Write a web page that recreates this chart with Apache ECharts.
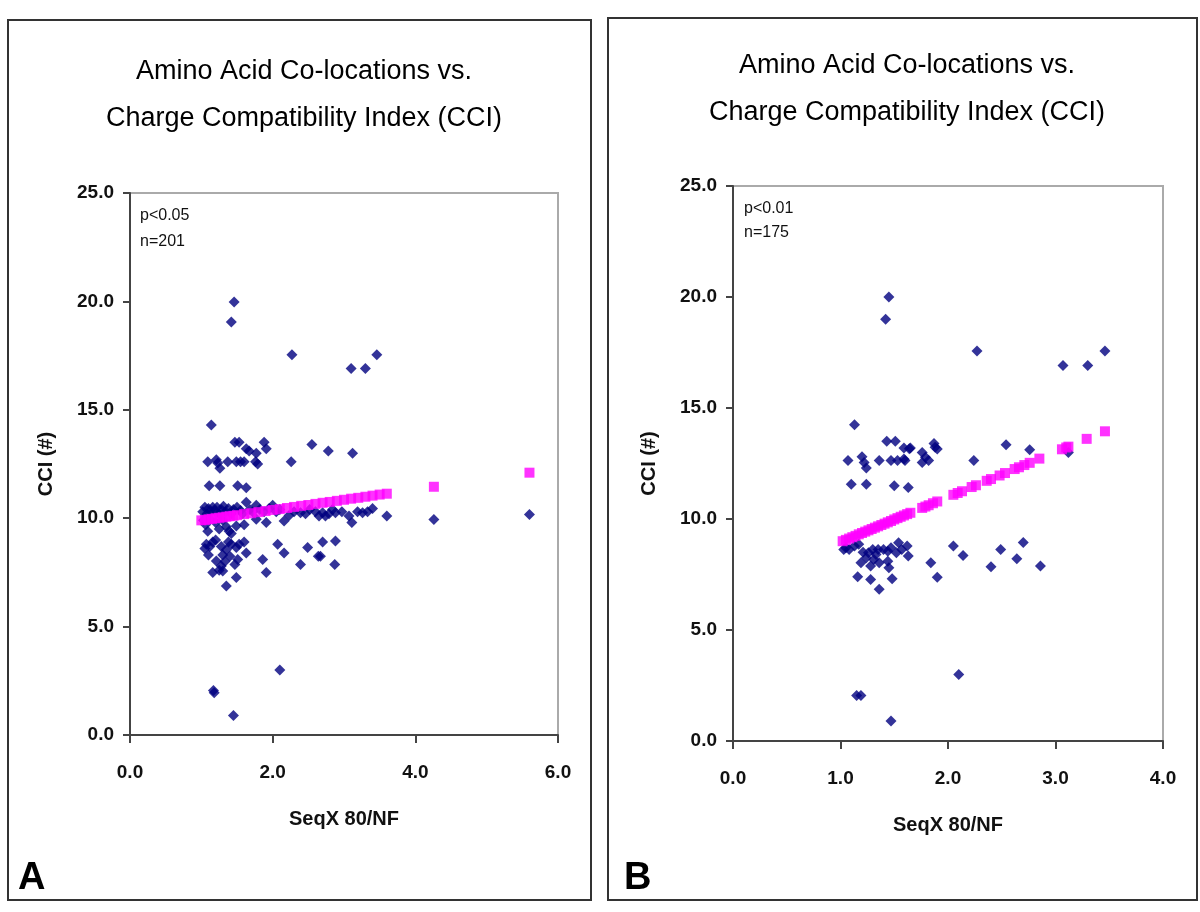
<!DOCTYPE html>
<html><head><meta charset="utf-8">
<script src="https://cdn.jsdelivr.net/npm/echarts/dist/echarts.min.js"></script>
<style>html,body{margin:0;padding:0;background:#fff}#c{width:1200px;height:912px}</style>
</head><body><div id="c"></div>
<script>
// ---- Data ----
const titleText = 'Amino Acid Co-locations vs.\nCharge Compatibility Index (CCI)';
const yName = 'CCI (#)';
const xName = 'SeqX 80/NF';
const yTicksMax = 25, yTickStep = 5;
const xMaxA = 6, xStepA = 2;
const xMaxB = 4, xStepB = 1;
const statsA = ['p<0.05', 'n=201'];
const statsB = ['p<0.01', 'n=175'];

// Panel A observed points [SeqX 80/NF, CCI]
const pointsA = [
  [1.46,19.97],[1.42,19.05],[2.27,17.54],[3.1,16.9],[3.3,16.9],[3.46,17.54],
  [1.17,2.05],[1.18,1.95],[2.1,3.0],[1.45,0.9],[4.26,9.94],[5.6,10.17],
  [1.14,14.3],[1.47,13.5],[1.53,13.5],[1.88,13.5],[1.91,13.2],[1.63,13.2],[1.67,13.1],[1.77,13.0],
  [1.09,12.6],[1.21,12.7],[1.23,12.55],[1.26,12.3],[1.37,12.6],[1.49,12.6],[1.55,12.6],[1.6,12.6],
  [1.76,12.6],[1.79,12.5],[2.26,12.6],[2.55,13.4],[2.78,13.1],[3.12,13.0],
  [1.11,11.5],[1.26,11.5],[1.51,11.5],[1.63,11.4],
  [1.02,10.3],[1.05,10.5],[1.08,10.2],[1.1,10.45],[1.13,10.3],[1.16,10.5],[1.19,10.35],[1.22,10.5],
  [1.25,10.2],[1.28,10.4],[1.31,10.55],[1.34,10.3],[1.38,10.45],[1.42,10.2],[1.45,10.4],[1.5,10.5],
  [1.55,10.35],[1.58,10.2],[1.63,10.74],[1.68,10.4],[1.72,10.3],[1.77,10.6],[1.82,10.4],[1.88,10.3],
  [1.95,10.45],[2.0,10.6],[2.05,10.3],[2.1,10.4],[2.23,10.13],[2.16,9.87],[2.3,10.3],[2.39,10.25],
  [2.46,10.2],[2.52,10.4],[2.6,10.3],[2.65,10.1],[2.7,10.25],[2.74,10.1],[2.79,10.2],[2.84,10.4],
  [2.88,10.25],[2.97,10.3],[3.07,10.1],[3.11,9.8],[3.19,10.3],[3.26,10.25],[3.33,10.3],[3.4,10.45],[3.6,10.1],
  [1.03,9.9],[1.06,9.7],[1.12,9.95],[1.2,9.8],[1.3,9.9],[1.35,9.6],[1.77,9.95],[1.91,9.8],
  [1.49,9.64],[1.39,9.4],[1.42,9.3],[1.09,9.4],[1.25,9.5],[1.6,9.7],
  [1.07,8.8],[1.12,8.7],[1.16,8.9],[1.28,8.7],[1.35,8.55],[1.42,8.8],[1.49,8.65],[1.53,8.8],
  [1.6,8.9],[1.63,8.4],[2.07,8.8],[2.16,8.4],[2.49,8.65],[2.67,8.25],[2.7,8.9],[2.88,8.95],
  [1.21,8.03],[1.28,7.8],[1.33,8.0],[1.4,8.25],[1.47,7.87],[1.51,8.1],[1.86,8.1],[2.39,7.87],
  [2.64,8.25],[2.87,7.87],[1.16,7.5],[1.3,7.57],[1.49,7.26],[1.91,7.5],[1.35,6.87],
  [1.05,8.6],[1.1,8.3],[1.2,9.0],[1.3,8.3],[1.25,7.6],[1.38,8.9]
];
// Panel A fitted values (magenta squares)
const trendA = [
  [1.0,9.90],[1.05,9.92],[1.1,9.95],[1.15,9.97],[1.2,10.00],[1.25,10.02],[1.3,10.04],[1.35,10.07],
  [1.4,10.09],[1.45,10.11],[1.5,10.14],[1.6,10.19],[1.7,10.23],
  [1.8,10.28],[1.9,10.33],[2.0,10.38],[2.1,10.42],[2.2,10.47],[2.3,10.52],[2.4,10.57],[2.5,10.61],
  [2.6,10.66],[2.7,10.71],[2.8,10.75],[2.9,10.80],[3.0,10.85],[3.1,10.90],[3.2,10.94],[3.3,10.99],
  [3.4,11.04],[3.5,11.09],[3.6,11.13],[4.26,11.45],[5.6,12.1]
];

// Panel B observed points
const pointsB = [
  [1.45,20.0],[1.42,19.0],[2.27,17.57],[3.07,16.92],[3.3,16.92],[3.46,17.57],
  [1.15,2.05],[1.19,2.05],[2.1,3.0],[1.47,0.9],
  [1.13,14.25],[1.43,13.5],[1.51,13.5],[1.59,13.2],[1.65,13.2],[1.87,13.4],[1.9,13.15],[1.76,13.0],
  [1.79,12.78],[1.07,12.63],[1.2,12.8],[1.22,12.55],[1.24,12.3],[1.36,12.63],[1.47,12.63],[1.53,12.63],
  [1.6,12.63],[1.76,12.55],[1.82,12.63],[1.88,13.23],[2.24,12.63],[2.54,13.35],[2.76,13.12],[3.12,13.0],
  [1.1,11.57],[1.24,11.57],[1.5,11.5],[1.63,11.42],[1.64,13.16],[1.59,12.7],
  [1.03,8.63],[1.05,8.7],[1.08,8.63],[1.13,8.78],[1.17,8.86],[1.26,8.48],[1.3,8.63],[1.35,8.63],
  [1.4,8.63],[1.44,8.55],[1.47,8.7],[1.54,8.93],[1.57,8.63],[1.62,8.78],[1.52,8.48],[1.63,8.33],
  [1.19,8.03],[1.24,8.26],[1.28,7.88],[1.31,8.18],[1.36,8.03],[1.44,8.1],[1.45,7.8],[2.05,8.78],
  [2.14,8.36],[1.84,8.03],[1.9,7.38],[1.16,7.4],[1.28,7.28],[1.48,7.31],[1.36,6.83],[2.49,8.63],
  [2.7,8.94],[2.64,8.21],[2.86,7.88],[2.4,7.85],[1.21,8.5],[1.33,8.4]
];
// Panel B fitted values
const trendB = [
  [1.02,9.00],[1.05,9.06],[1.08,9.12],[1.11,9.18],[1.14,9.24],[1.17,9.31],[1.20,9.37],[1.23,9.43],
  [1.26,9.49],[1.29,9.55],[1.32,9.61],[1.35,9.67],[1.38,9.73],[1.41,9.79],[1.44,9.85],[1.47,9.91],
  [1.50,9.98],[1.53,10.04],[1.56,10.10],[1.59,10.16],[1.62,10.22],[1.65,10.28],[1.76,10.50],[1.79,10.56],
  [1.82,10.62],[1.86,10.71],[1.90,10.79],[2.05,11.09],[2.09,11.17],[2.13,11.25],[2.22,11.44],[2.26,11.52],
  [2.36,11.72],[2.40,11.80],[2.48,11.96],[2.53,12.07],[2.62,12.25],[2.66,12.33],[2.71,12.43],[2.76,12.53],
  [2.85,12.72],[3.06,13.14],[3.10,13.22],[3.12,13.26],[3.29,13.61],[3.46,13.95]
];

// ---- Chart ----
const NAVY = '#000080', MAGENTA = '#ff00ff', AX = '#444';
const tickFont = {fontFamily: "'Liberation Sans',Arial,sans-serif", fontWeight: 'bold', fontSize: 19, color: '#111'};
const nameFont = {fontFamily: "'Liberation Sans',Arial,sans-serif", fontWeight: 'bold', fontSize: 20, color: '#111'};
const fmt = v => v.toFixed(1);

function xAxisCfg(gi, max, step) {
  return {gridIndex: gi, type: 'value', min: 0, max: max, interval: step,
    name: xName, nameLocation: 'middle', nameGap: 74, nameTextStyle: nameFont,
    axisLine: {show: true, lineStyle: {color: AX, width: 2}},
    axisTick: {show: true, length: 8, lineStyle: {color: AX, width: 2}},
    axisLabel: Object.assign({formatter: fmt, margin: 28}, tickFont),
    splitLine: {show: false}};
}
function yAxisCfg(gi) {
  return {gridIndex: gi, type: 'value', min: 0, max: yTicksMax, interval: yTickStep,
    name: yName, nameLocation: 'middle', nameGap: 74, nameRotate: 90, nameTextStyle: nameFont,
    axisLine: {show: true, lineStyle: {color: AX, width: 2}},
    axisTick: {show: true, length: 7, lineStyle: {color: AX, width: 2}},
    axisLabel: Object.assign({formatter: fmt, margin: 16}, tickFont),
    splitLine: {show: false}};
}
const titleStyle = {fontFamily: "'Liberation Sans',Arial,sans-serif", fontWeight: 'normal', fontSize: 27, lineHeight: 47, color: '#000'};
const statStyle = {fontFamily: "'Liberation Sans',Arial,sans-serif", fontSize: 16, fill: '#111'};

const chart = echarts.init(document.getElementById('c'), null, {renderer: 'canvas'});
chart.setOption({
  backgroundColor: '#fff',
  animation: false,
  title: [
    {text: titleText, left: 299, top: 43, textAlign: 'center', textStyle: titleStyle},
    {text: titleText, left: 902, top: 37, textAlign: 'center', textStyle: titleStyle}
  ],
  grid: [
    {left: 130, top: 193, width: 428, height: 542, show: true, borderColor: '#aaa', borderWidth: 2, backgroundColor: '#fff'},
    {left: 733, top: 186, width: 430, height: 555, show: true, borderColor: '#aaa', borderWidth: 2, backgroundColor: '#fff'}
  ],
  xAxis: [xAxisCfg(0, xMaxA, xStepA), xAxisCfg(1, xMaxB, xStepB)],
  yAxis: [yAxisCfg(0), yAxisCfg(1)],
  series: [
    {type: 'scatter', xAxisIndex: 0, yAxisIndex: 0, data: pointsA, symbol: 'diamond', symbolSize: 11, itemStyle: {color: NAVY}},
    {type: 'scatter', xAxisIndex: 0, yAxisIndex: 0, data: trendA, symbol: 'rect', symbolSize: 10, itemStyle: {color: MAGENTA}},
    {type: 'scatter', xAxisIndex: 1, yAxisIndex: 1, data: pointsB, symbol: 'diamond', symbolSize: 11, itemStyle: {color: NAVY}},
    {type: 'scatter', xAxisIndex: 1, yAxisIndex: 1, data: trendB, symbol: 'rect', symbolSize: 10, itemStyle: {color: MAGENTA}}
  ],
  graphic: [
    {type: 'rect', shape: {x: 8, y: 20, width: 583, height: 880}, style: {fill: null, stroke: '#333', lineWidth: 2}, z: -1},
    {type: 'rect', shape: {x: 608, y: 18, width: 589, height: 882}, style: {fill: null, stroke: '#333', lineWidth: 2}, z: -1},
    {type: 'text', left: 140, top: 208, style: Object.assign({text: statsA[0]}, statStyle), z: 10},
    {type: 'text', left: 140, top: 234, style: Object.assign({text: statsA[1]}, statStyle), z: 10},
    {type: 'text', left: 744, top: 201, style: Object.assign({text: statsB[0]}, statStyle), z: 10},
    {type: 'text', left: 744, top: 225, style: Object.assign({text: statsB[1]}, statStyle), z: 10},
    {type: 'text', left: 18, top: 860, style: {text: 'A', fontFamily: "'Liberation Sans',Arial,sans-serif", fontWeight: 'bold', fontSize: 38, fill: '#000'}},
    {type: 'text', left: 624, top: 860, style: {text: 'B', fontFamily: "'Liberation Sans',Arial,sans-serif", fontWeight: 'bold', fontSize: 38, fill: '#000'}}
  ]
});
</script>
</body></html>
